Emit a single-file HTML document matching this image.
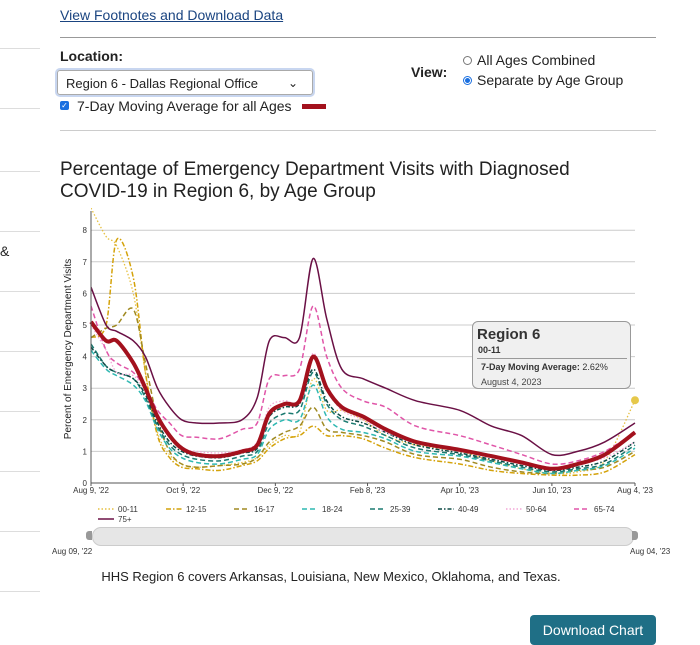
<!DOCTYPE html>
<html><head><meta charset="utf-8">
<style>
body{margin:0;width:700px;height:640px;overflow:hidden;background:#fff;font-family:"Liberation Sans",sans-serif;position:relative;color:#222}
.abs{position:absolute}
.side{position:absolute;left:0;width:40px;height:1px;background:#ddd}
</style></head><body>
<div class="side" style="top:48px"></div>
<div class="side" style="top:108px"></div>
<div class="side" style="top:171px"></div>
<div class="side" style="top:231px"></div>
<div class="side" style="top:291px"></div>
<div class="side" style="top:351px"></div>
<div class="side" style="top:411px"></div>
<div class="side" style="top:471px"></div>
<div class="side" style="top:531px"></div>
<div class="side" style="top:591px"></div>
<div class="abs" style="left:0;top:243px;font-size:14px">&amp;</div>

<a class="abs" style="left:60px;top:7px;font-size:14px;color:#1a4480;text-decoration:underline">View Footnotes and Download Data</a>
<div class="abs" style="left:60px;top:37px;width:596px;height:1px;background:#999"></div>
<div class="abs" style="left:60px;top:48px;font-size:14px;font-weight:bold">Location:</div>
<div class="abs" style="left:57px;top:70px;width:256px;height:25px;border:1px solid #aaa;border-radius:3px;box-shadow:0 0 0 2px #c8d6f0;font-size:13px;line-height:25px;padding-left:8px;box-sizing:border-box">Region 6 - Dallas Regional Office<span style="position:absolute;right:14px;top:0;font-size:12px">&#8964;</span></div>
<div class="abs" style="left:60px;top:101px;width:9px;height:9px;background:#1a6fe0;border-radius:2px;color:#fff;font-size:8px;line-height:9px;text-align:center">✓</div>
<div class="abs" style="left:77px;top:98px;font-size:14px">7-Day Moving Average for all Ages</div>
<div class="abs" style="left:302px;top:104px;width:24px;height:5px;background:#a3111d"></div>
<div class="abs" style="left:411px;top:64px;font-size:14px;font-weight:bold">View:</div>
<div class="abs" style="left:463px;top:56px;width:7px;height:7px;border:1px solid #777;border-radius:50%"></div>
<div class="abs" style="left:477px;top:52px;font-size:14px">All Ages Combined</div>
<div class="abs" style="left:463px;top:76px;width:7px;height:7px;border:1px solid #1a6fe0;border-radius:50%;background:radial-gradient(#1a6fe0 45%,#fff 55%)"></div>
<div class="abs" style="left:477px;top:72px;font-size:14px">Separate by Age Group</div>
<div class="abs" style="left:60px;top:130px;width:596px;height:1px;background:#ccc"></div>

<div class="abs" style="left:60px;top:159px;font-size:19px;line-height:22px;color:#222">Percentage of Emergency Department Visits with Diagnosed<br>COVID-19 in Region 6, by Age Group</div>

<svg class="abs" style="left:0;top:0" width="700" height="640">
<g id="grid"></g><g id="series"></g><g id="axes"></g>
</svg>

<div class="abs" style="left:472px;top:321px;width:157px;height:66px;background:#f0f0f0;border:1px solid #999;border-radius:6px">
<div style="position:absolute;left:4px;top:4px;font-size:15px;font-weight:bold;color:#333">Region 6</div>
<div style="position:absolute;left:5px;top:23px;font-size:9px;font-weight:bold;color:#333">00-11</div>
<div style="position:absolute;left:4px;top:36px;width:150px;height:1px;background:#999"></div>
<div style="position:absolute;left:8px;top:40px;font-size:9px;color:#333"><b>7-Day Moving Average:</b> 2.62%</div>
<div style="position:absolute;left:8px;top:55px;font-size:9px;color:#444">August 4, 2023</div>
</div>

<div class="abs" style="left:92px;top:527px;width:540px;height:17px;background:#e6e6e6;border:1px solid #ccc;border-radius:9px"></div>
<div class="abs" style="left:86px;top:531px;width:6px;height:9px;background:#999;border-radius:3px 0 0 3px"></div>
<div class="abs" style="left:632px;top:531px;width:6px;height:9px;background:#999;border-radius:0 3px 3px 0"></div>
<div class="abs" style="left:52px;top:547px;font-size:8px;color:#333">Aug 09, '22</div>
<div class="abs" style="left:630px;top:547px;font-size:8px;color:#333">Aug 04, '23</div>
<div class="abs" style="left:0;width:662px;text-align:center;top:569px;font-size:13px">HHS Region 6 covers Arkansas, Louisiana, New Mexico, Oklahoma, and Texas.</div>
<div class="abs" style="left:530px;top:615px;width:126px;height:30px;background:#1f6f86;border-radius:4px;color:#fff;font-size:14px;line-height:30px;text-align:center">Download Chart</div>

<script>
const days=[0,10,17,28,36,44,52,60,70,85,100,110,118,128,138,147,156,166,180,195,215,244,265,285,305,322,340,360];
const s0011=[8.7,7.8,7.5,6.0,3.5,1.6,0.9,0.6,0.5,0.55,0.65,0.8,1.2,1.5,1.6,3.3,2.3,2.3,2.0,1.5,1.2,1.0,0.7,0.45,0.3,0.35,0.7,2.62];
const s1215=[4.6,5.0,7.7,6.5,3.5,1.5,0.8,0.5,0.45,0.4,0.55,0.7,1.1,1.4,1.5,1.8,1.5,1.5,1.4,1.1,0.8,0.6,0.4,0.3,0.25,0.25,0.35,0.9];
const s1617=[4.6,4.9,5.0,5.5,3.8,2.0,1.0,0.6,0.5,0.55,0.6,0.8,1.3,1.6,1.8,2.4,1.7,1.6,1.5,1.3,0.9,0.75,0.5,0.35,0.3,0.4,0.5,1.0];
const s1824=[4.2,3.6,3.4,3.1,2.6,1.7,1.1,0.8,0.65,0.6,0.75,0.9,1.7,2.0,2.0,3.1,2.1,1.7,1.6,1.4,1.0,0.85,0.65,0.45,0.3,0.4,0.55,1.1];
const s2539=[4.4,3.7,3.5,3.3,2.7,1.8,1.2,0.9,0.75,0.7,0.85,1.0,1.9,2.2,2.3,3.5,2.5,2.0,1.8,1.5,1.1,0.9,0.7,0.5,0.35,0.45,0.6,1.2];
const s4049=[4.3,3.7,3.5,3.3,2.8,1.9,1.3,1.0,0.85,0.8,0.95,1.1,2.1,2.4,2.5,3.6,2.6,2.1,1.9,1.6,1.2,0.95,0.75,0.55,0.4,0.5,0.7,1.3];
const s5064=[5.0,4.2,3.5,3.4,2.9,2.1,1.5,1.1,1.0,0.95,1.05,1.3,2.4,2.6,2.6,4.1,3.0,2.3,2.0,1.6,1.3,1.0,0.85,0.65,0.45,0.6,0.8,1.3];
const s6574=[5.6,4.2,3.8,3.5,3.0,2.3,1.9,1.5,1.45,1.4,1.7,1.9,3.3,3.4,3.6,5.6,4.0,3.0,2.6,2.4,1.8,1.5,1.2,0.9,0.6,0.7,1.0,1.6];
const s75=[6.2,5.0,4.8,4.5,4.0,3.0,2.4,2.0,1.9,1.9,2.0,2.7,4.5,4.6,4.6,7.1,5.2,3.6,3.3,3.0,2.6,2.3,1.8,1.5,0.9,1.0,1.3,1.9];
const sAvg=[5.1,4.5,4.5,3.8,3.0,2.1,1.5,1.1,0.9,0.85,1.0,1.2,2.2,2.5,2.6,4.0,3.0,2.4,2.1,1.7,1.3,1.05,0.85,0.65,0.45,0.6,0.9,1.6];
const yTicks=[0,1,2,3,4,5,6,7,8];
const xTickDays=[0,61,122,183,244,305,360];
const xTickLabels=["Aug 9, '22","Oct 9, '22","Dec 9, '22","Feb 8, '23","Apr 10, '23","Jun 10, '23","Aug 4, '23"];
const legendLabels=["00-11","12-15","16-17","18-24","25-39","40-49","50-64","65-74","75+"];

const X0=91,X1=635,Y0=483,PU=31.6,TOP=211;
const xs=d=>X0+(X1-X0)*d/360;
const ys=v=>Y0-v*PU;
const NS="http://www.w3.org/2000/svg";
function mk(t,a,p){const e=document.createElementNS(NS,t);for(const k in a)e.setAttribute(k,a[k]);p.appendChild(e);return e;}
const grid=document.getElementById('grid'),ser=document.getElementById('series'),ax=document.getElementById('axes');
yTicks.forEach(t=>{
  if(t>0){const g=mk('line',{x1:X0,x2:X1,y1:ys(t),y2:ys(t),stroke:'#ccc','stroke-width':1},grid);
  
  }
  const l=mk('text',{x:X0-4,y:ys(t)+3,'font-size':8,'text-anchor':'end',fill:'#333'},ax);l.textContent=t;
  
  
});
const ya=mk('line',{x1:X0,x2:X0,y1:TOP,y2:Y0,stroke:'#555'},ax);


const xa=mk('line',{x1:X0,x2:X1,y1:Y0,y2:Y0,stroke:'#555'},ax);


xTickDays.forEach((d,i)=>{
  mk('line',{x1:xs(d),x2:xs(d),y1:Y0,y2:Y0+3,stroke:'#555'},ax);
  const t=mk('text',{x:xs(d),y:Y0+10,'font-size':8,'text-anchor':'middle',fill:'#333'},ax);t.textContent=xTickLabels[i];
  
  
});
const yt=mk('text',{x:0,y:0,'font-size':10,'text-anchor':'middle',fill:'#222',transform:`translate(71,${(TOP+Y0)/2+2}) rotate(-90)`},ax);
yt.textContent='Percent of Emergency Department Visits';



const styles=[
 {d:s0011,c:'#e6c040',w:1.3,da:'1.5 2'},
 {d:s1215,c:'#d4a20a',w:1.5,da:'5 2 1.5 2'},
 {d:s1617,c:'#a08a22',w:1.5,da:'5 3'},
 {d:s1824,c:'#2fb8b2',w:1.5,da:'5 3'},
 {d:s2539,c:'#1a7a70',w:1.5,da:'5 3'},
 {d:s4049,c:'#0d4a45',w:1.5,da:'4 2 1.5 2'},
 {d:s5064,c:'#f3a6d6',w:1.3,da:'1.5 2'},
 {d:s6574,c:'#e055a8',w:1.5,da:'5 3'},
 {d:s75,c:'#6a1045',w:1.5,da:''}
];
const cp=mk('clipPath',{id:'cp'},ser);mk('rect',{x:X0,y:TOP-3,width:X1-X0+2,height:Y0-TOP+3},cp);
function path(arr){
  const P=arr.map((v,i)=>[xs(days[i]),ys(v)]);
  let d='M'+P[0][0].toFixed(1)+','+P[0][1].toFixed(1);
  for(let i=0;i<P.length-1;i++){
    const p0=P[Math.max(0,i-1)],p1=P[i],p2=P[i+1],p3=P[Math.min(P.length-1,i+2)];
    const t=0.16;
    const c1=[p1[0]+(p2[0]-p0[0])*t,p1[1]+(p2[1]-p0[1])*t];
    const c2=[p2[0]-(p3[0]-p1[0])*t,p2[1]-(p3[1]-p1[1])*t];
    d+='C'+c1[0].toFixed(1)+','+c1[1].toFixed(1)+' '+c2[0].toFixed(1)+','+c2[1].toFixed(1)+' '+p2[0].toFixed(1)+','+p2[1].toFixed(1);
  }
  return d;
}
styles.forEach((s,i)=>{
  const p=mk('path',{d:path(s.d),fill:'none',stroke:s.c,'stroke-width':s.w,'stroke-dasharray':s.da,'clip-path':'url(#cp)','stroke-linejoin':'round'},ser);
  
  
});
const avg=mk('path',{d:path(sAvg),fill:'none',stroke:'#a3111d','stroke-width':4,'stroke-linejoin':'round'},ser);


const last=s0011.length-1;
const dot=mk('circle',{cx:xs(days[last]),cy:ys(s0011[last]),r:4,fill:'#e6c84a'},ser);



legendLabels.forEach((lab,i)=>{
  const col=i%8,row=Math.floor(i/8);
  const lx=98+col*68,ly=509+row*10;
  const g=mk('g',{},ax);
  
  
  mk('line',{x1:lx,x2:lx+16,y1:ly,y2:ly,stroke:styles[i].c,'stroke-width':1.5,'stroke-dasharray':styles[i].da},g);
  const t=mk('text',{x:lx+20,y:ly+3,'font-size':8,fill:'#333'},g);t.textContent=lab;
});
</script>
</body></html>
